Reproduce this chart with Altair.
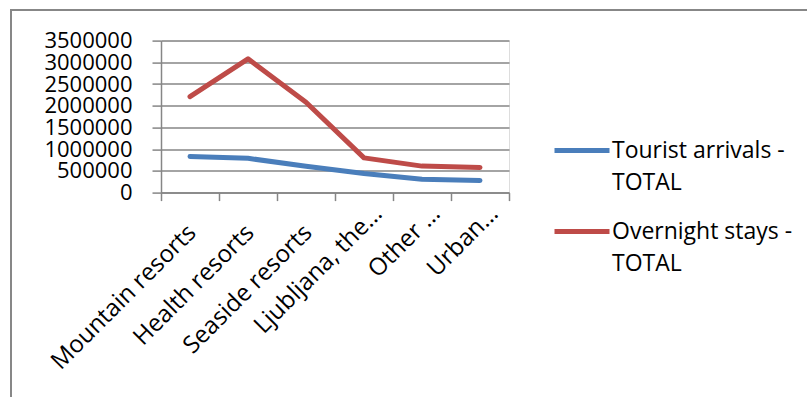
import altair as alt
import pandas as pd

categories = ["Mountain resorts", "Health resorts", "Seaside resorts",
              "Ljubljana, the\u2026", "Other \u2026", "Urban\u2026"]
series_names = ["Tourist arrivals - TOTAL", "Overnight stays - TOTAL"]
tourist_arrivals = [830000, 790000, 605000, 440000, 310000, 280000]
overnight_stays = [2210000, 3080000, 2080000, 800000, 610000, 580000]
y_ticks = [0, 500000, 1000000, 1500000, 2000000, 2500000, 3000000, 3500000]
colors = ["#4A7EBB", "#BE4B48"]

rows = []
for s, vals in zip(series_names, [tourist_arrivals, overnight_stays]):
    for c, v in zip(categories, vals):
        rows.append({"category": c, "series": s, "value": v})
df = pd.DataFrame(rows)

FONT = "Open Sans"
GRID = "#868686"
TRUNC = "indexof(datum.label, '\u2026') >= 0"

lines = alt.Chart(df).mark_line(strokeWidth=5, strokeCap="round", strokeJoin="round").encode(
    x=alt.X("category:N", sort=categories,
            scale=alt.Scale(paddingInner=0, paddingOuter=0),
            axis=alt.Axis(title=None, labelAngle=-45, labelAlign="right", labelBaseline="middle",
                          tickBand="extent", tickSize=8, tickColor=GRID, tickWidth=1.5,
                          domainColor=GRID, domainWidth=1.5,
                          labelPadding={"condition": {"test": TRUNC, "value": 9}, "value": 28},
                          labelOffset={"condition": {"test": TRUNC, "value": 14}, "value": 2},
                          labelFont=FONT, labelFontSize=24, labelColor="#000000",
                          labelLimit=400, labelOverlap=False, grid=False)),
    y=alt.Y("value:Q", scale=alt.Scale(domain=[0, 3500000], nice=False),
            axis=alt.Axis(title=None, values=y_ticks, format="d", tickSize=9, tickColor=GRID,
                          tickWidth=1.5, domainColor=GRID, domainWidth=1.5, gridColor=GRID,
                          gridWidth=1.5, labelPadding=20, labelFont=FONT, labelFontSize=22,
                          labelColor="#000000", labelOverlap=False)),
    color=alt.Color("series:N", sort=series_names,
                    scale=alt.Scale(domain=series_names, range=colors),
                    legend=alt.Legend(title=None, orient="none", legendX=391, legendY=80,
                                      symbolType="stroke", symbolSize=3025, symbolStrokeWidth=5,
                                      labelFont=FONT, labelFontSize=23, labelColor="#000000",
                                      labelBaseline="middle", labelOffset=0, labelLimit=400,
                                      rowPadding=7, padding=0,
                                      labelExpr="[replace(datum.label, ' TOTAL', ''), 'TOTAL']")),
)

border_left = alt.Chart(alt.Data(values=[{}])).mark_rule(color="#878787", strokeWidth=2).encode(
    x=alt.value(-150), y=alt.value(-30.6), y2=alt.value(360))
border_top = alt.Chart(alt.Data(values=[{}])).mark_rule(color="#878787", strokeWidth=2).encode(
    x=alt.value(-151), x2=alt.value(646), y=alt.value(-30.6))

chart = alt.layer(border_left, border_top, lines).properties(
    width=348, height=152,
    autosize=alt.AutoSizeParams(type="none"),
    padding={"left": 161, "top": 40.6, "right": 298, "bottom": 204.4},
).configure_view(stroke=None).configure(
    style={"guide-label": {"lineHeight": 32}}
)

chart.save("out.html", embed_options={"renderer": "svg", "actions": False})
